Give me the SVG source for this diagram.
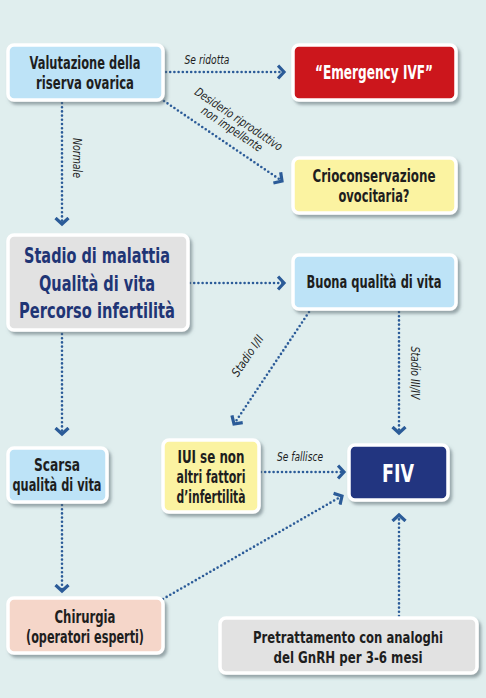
<svg xmlns="http://www.w3.org/2000/svg" width="486" height="698" viewBox="0 0 486 698">
<style>
.bg{fill:#e0eeee}
.box{stroke:#fff;stroke-width:3.5;filter:url(#sh)}
.blue{fill:#bde3f7}
.red{fill:#cc161c}
.yel{fill:#fbf3a1}
.gray{fill:#e2e2e2}
.navy{fill:#203480}
.peach{fill:#f5d6c9}
.t{font-family:"DejaVu Sans Condensed","DejaVu Sans","Liberation Sans",sans-serif;font-stretch:condensed;font-weight:bold;text-anchor:middle;fill:#1e1e1e}
.lbl{font-family:"DejaVu Sans Condensed","DejaVu Sans","Liberation Sans",sans-serif;font-stretch:condensed;font-style:italic;font-size:12px;fill:#1e1e1e;text-anchor:middle}
.c{fill:none;stroke:#2b5b98;stroke-width:2.6;stroke-linecap:round;stroke-dasharray:0 4.2}
</style>
<defs>
<filter id="sh" x="-10%" y="-10%" width="130%" height="140%">
<feDropShadow dx="2.5" dy="3" stdDeviation="1.8" flood-color="#5a6a70" flood-opacity="0.55"/>
</filter>
<marker id="ar" markerUnits="userSpaceOnUse" markerWidth="14" markerHeight="16" refX="7" refY="8" orient="auto" viewBox="0 0 14 16">
<path d="M1,1.5 L7,8 L1,14.5" fill="none" stroke="#2b5b98" stroke-width="3.2" stroke-linejoin="miter"/>
</marker>
</defs>
<rect class="bg" x="0" y="0" width="486" height="698"/>

<g id="connectors">
<line class="c" x1="166" y1="72" x2="284" y2="72" marker-end="url(#ar)"/>
<line class="c" x1="164" y1="101" x2="282" y2="181" marker-end="url(#ar)"/>
<line class="c" x1="62" y1="103" x2="62" y2="224" marker-end="url(#ar)"/>
<line class="c" x1="190" y1="283" x2="284" y2="283" marker-end="url(#ar)"/>
<line class="c" x1="62" y1="334" x2="62" y2="434" marker-end="url(#ar)"/>
<line class="c" x1="309" y1="312" x2="234" y2="424" marker-end="url(#ar)"/>
<line class="c" x1="399" y1="312" x2="399" y2="433" marker-end="url(#ar)"/>
<line class="c" x1="261" y1="472" x2="344" y2="472" marker-end="url(#ar)"/>
<line class="c" x1="62" y1="505" x2="62" y2="591" marker-end="url(#ar)"/>
<line class="c" x1="163" y1="599" x2="342" y2="496" marker-end="url(#ar)"/>
<line class="c" x1="399" y1="616" x2="399" y2="515" marker-end="url(#ar)"/>
<text class="lbl" x="207" y="64" textLength="45" lengthAdjust="spacingAndGlyphs">Se ridotta</text>
<g transform="translate(238,120) rotate(34)"><text class="lbl" x="0" y="3" textLength="103" lengthAdjust="spacingAndGlyphs">Desiderio riproduttivo</text><text class="lbl" x="0" y="15" textLength="71" lengthAdjust="spacingAndGlyphs">non impellente</text></g>
<text class="lbl" transform="translate(73,158) rotate(90)" textLength="40" lengthAdjust="spacingAndGlyphs">Normale</text>
<text class="lbl" transform="translate(251,358) rotate(-56)" textLength="47" lengthAdjust="spacingAndGlyphs">Stadio I/II</text>
<text class="lbl" transform="translate(411,373) rotate(90)" textLength="53" lengthAdjust="spacingAndGlyphs">Stadio III/IV</text>
<text class="lbl" x="300" y="461" textLength="46" lengthAdjust="spacingAndGlyphs">Se fallisce</text>
</g>

<g id="n-valutazione">
<rect class="box blue" x="8" y="45" width="155" height="55" rx="6"/>
<text class="t" x="85" y="69" font-size="17" textLength="111" lengthAdjust="spacingAndGlyphs">Valutazione della</text>
<text class="t" x="85" y="89" font-size="17" textLength="98" lengthAdjust="spacingAndGlyphs">riserva ovarica</text>
</g>
<g id="n-emergency">
<rect class="box red" x="293" y="45" width="163" height="55" rx="6"/>
<text class="t" x="374" y="79" font-size="19" style="fill:#fff" textLength="118" lengthAdjust="spacingAndGlyphs">“Emergency IVF”</text>
</g>
<g id="n-crio">
<rect class="box yel" x="293" y="158" width="163" height="55" rx="6"/>
<text class="t" x="374" y="182" font-size="17" textLength="123" lengthAdjust="spacingAndGlyphs">Crioconservazione</text>
<text class="t" x="374" y="202" font-size="17" textLength="71" lengthAdjust="spacingAndGlyphs">ovocitaria?</text>
</g>
<g id="n-stadio">
<rect class="box gray" x="8" y="235" width="180" height="95" rx="6"/>
<text class="t" x="97" y="263" font-size="22" style="fill:#1f3575" textLength="146" lengthAdjust="spacingAndGlyphs">Stadio di malattia</text>
<text class="t" x="97" y="291" font-size="22" style="fill:#1f3575" textLength="116" lengthAdjust="spacingAndGlyphs">Qualità di vita</text>
<text class="t" x="97" y="318" font-size="22" style="fill:#1f3575" textLength="156" lengthAdjust="spacingAndGlyphs">Percorso infertilità</text>
</g>
<g id="n-buona">
<rect class="box blue" x="293" y="255" width="163" height="54" rx="6"/>
<text class="t" x="374" y="288" font-size="17" textLength="135" lengthAdjust="spacingAndGlyphs">Buona qualità di vita</text>
</g>
<g id="n-scarsa">
<rect class="box blue" x="8" y="448" width="99" height="54" rx="6"/>
<text class="t" x="57" y="471" font-size="17" textLength="46" lengthAdjust="spacingAndGlyphs">Scarsa</text>
<text class="t" x="57" y="491" font-size="17" textLength="89" lengthAdjust="spacingAndGlyphs">qualità di vita</text>
</g>
<g id="n-iui">
<rect class="box yel" x="163" y="440" width="96" height="72" rx="6"/>
<text class="t" x="211" y="463" font-size="17" textLength="67" lengthAdjust="spacingAndGlyphs">IUI se non</text>
<text class="t" x="211" y="483" font-size="17" textLength="69" lengthAdjust="spacingAndGlyphs">altri fattori</text>
<text class="t" x="211" y="503" font-size="17" textLength="69" lengthAdjust="spacingAndGlyphs">d’infertilità</text>
</g>
<g id="n-fiv">
<rect class="box navy" x="349" y="445" width="99" height="55" rx="6"/>
<text class="t" x="398" y="482" font-size="25" style="fill:#fff" textLength="32" lengthAdjust="spacingAndGlyphs">FIV</text>
</g>
<g id="n-chirurgia">
<rect class="box peach" x="8" y="598" width="155" height="55" rx="6"/>
<text class="t" x="85" y="623" font-size="17" textLength="61" lengthAdjust="spacingAndGlyphs">Chirurgia</text>
<text class="t" x="85" y="643" font-size="17" textLength="118" lengthAdjust="spacingAndGlyphs">(operatori esperti)</text>
</g>
<g id="n-pretrattamento">
<rect class="box gray" x="220" y="618" width="257" height="55" rx="6"/>
<text class="t" x="348" y="643" font-size="15" textLength="190" lengthAdjust="spacingAndGlyphs">Pretrattamento con analoghi</text>
<text class="t" x="348" y="663" font-size="15" textLength="149" lengthAdjust="spacingAndGlyphs">del GnRH per 3-6 mesi</text>
</g>
</svg>
